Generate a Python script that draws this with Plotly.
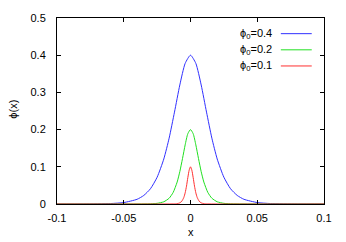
import plotly.graph_objects as go

# Values (symmetric profiles)
x_04 = [-0.1, -0.08, -0.06, -0.05, -0.04, -0.035, -0.03, -0.025, -0.02, -0.016, -0.012, -0.008, -0.004, 0.0,
        0.004, 0.008, 0.012, 0.016, 0.02, 0.025, 0.03, 0.035, 0.04, 0.05, 0.06, 0.08, 0.1]
y_04 = [0.0, 0.0001, 0.0012, 0.0039, 0.0127, 0.023, 0.041, 0.072, 0.121, 0.177, 0.247, 0.320, 0.378, 0.400,
        0.378, 0.320, 0.247, 0.177, 0.121, 0.072, 0.041, 0.023, 0.0127, 0.0039, 0.0012, 0.0001, 0.0]

x_02 = [-0.1, -0.03, -0.025, -0.02, -0.016, -0.013, -0.010, -0.008, -0.006, -0.004, -0.002, 0.0,
        0.002, 0.004, 0.006, 0.008, 0.010, 0.013, 0.016, 0.02, 0.025, 0.03, 0.1]
y_02 = [0.0, 0.0005, 0.0018, 0.006, 0.0155, 0.031, 0.059, 0.087, 0.122, 0.159, 0.189, 0.200,
        0.189, 0.159, 0.122, 0.087, 0.059, 0.031, 0.0155, 0.006, 0.0018, 0.0005, 0.0]

x_01 = [-0.1, -0.013, -0.010, -0.008, -0.0065, -0.005, -0.004, -0.003, -0.002, -0.001, 0.0,
        0.001, 0.002, 0.003, 0.004, 0.005, 0.0065, 0.008, 0.010, 0.013, 0.1]
y_01 = [0.0, 0.0002, 0.0009, 0.0031, 0.0075, 0.0177, 0.030, 0.048, 0.071, 0.091, 0.100,
        0.091, 0.071, 0.048, 0.030, 0.0177, 0.0075, 0.0031, 0.0009, 0.0002, 0.0]

series_labels = ["ϕ<sub>0</sub>=0.4", "ϕ<sub>0</sub>=0.2", "ϕ<sub>0</sub>=0.1"]
x_ticks = [-0.1, -0.05, 0, 0.05, 0.1]
x_ticktext = ["-0.1", "-0.05", "0", "0.05", "0.1"]
y_ticks = [0, 0.1, 0.2, 0.3, 0.4, 0.5]
y_ticktext = ["0", "0.1", "0.2", "0.3", "0.4", "0.5"]

colors = ["#3030ff", "#20e020", "#ff3030"]
font = dict(family="Liberation Sans, Arial, sans-serif", size=11, color="#000000")

fig = go.Figure()
for xs, ys, c, name in zip([x_04, x_02, x_01], [y_04, y_02, y_01], colors, series_labels):
    fig.add_trace(go.Scatter(x=xs, y=ys, mode="lines", name=name,
                             line=dict(color=c, width=1, shape="spline", smoothing=0.6),
                             showlegend=False, hoverinfo="skip"))

L, R, T, B = 56.5, 324.3, 14, 204
W, H = 346, 242

axis_common = dict(showgrid=False, zeroline=False, showline=True, linecolor="#000000", linewidth=1,
                   mirror="allticks", ticks="inside", ticklen=4, tickcolor="#000000", tickwidth=1,
                   tickfont=font)

fig.update_layout(
    width=W, height=H,
    margin=dict(l=L, r=W - R, t=T, b=H - B, pad=0),
    paper_bgcolor="white", plot_bgcolor="white",
    font=font,
    xaxis=dict(range=[-0.1, 0.1], tickvals=x_ticks, ticktext=x_ticktext, ticklabelstandoff=4, **axis_common),
    yaxis=dict(range=[0, 0.5], tickvals=y_ticks, ticktext=y_ticktext, ticklabelstandoff=8, **axis_common),
)

def px(xp):
    return (xp - L) / (R - L)

def py(yp):
    return (B - yp) / (B - T)

annotations = [
    dict(text="x", x=px(190.5), y=py(233), xref="paper", yref="paper", showarrow=False,
         xanchor="center", yanchor="middle", font=font),
    dict(text="ϕ(x)", x=px(12), y=py(107), xref="paper", yref="paper", showarrow=False,
         xanchor="center", yanchor="middle", textangle=-90, font=font),
]
shapes = []
row_y = [30, 46.5, 63]
for name, c, yy in zip(series_labels, colors, row_y):
    annotations.append(dict(text=name, x=px(274), y=py(yy), xref="paper", yref="paper", showarrow=False,
                            xanchor="right", yanchor="middle", font=font))
    shapes.append(dict(type="line", xref="paper", yref="paper", x0=px(281), x1=px(312), y0=py(yy), y1=py(yy),
                       line=dict(color=c, width=1)))

fig.update_layout(annotations=annotations, shapes=shapes)
fig.write_html("out.html", config={"displayModeBar": False},
               post_script="document.body.style.margin='0';document.body.style.padding='0';")
